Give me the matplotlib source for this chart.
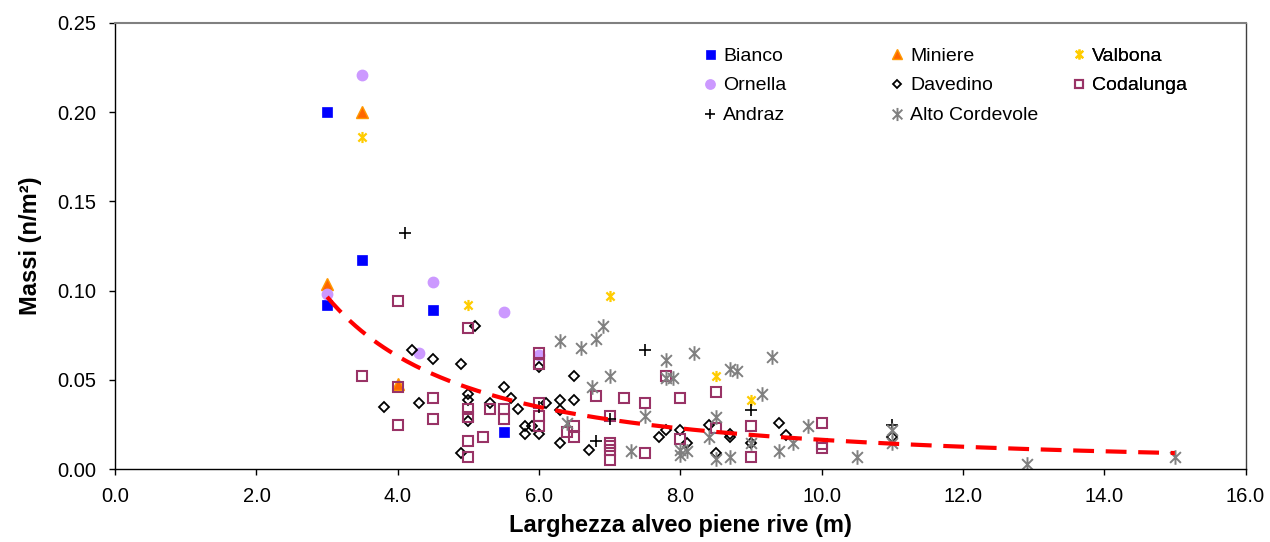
import matplotlib
matplotlib.use("Agg")
import matplotlib.pyplot as plt
import numpy as np
from matplotlib.path import Path
from matplotlib.ticker import FormatStrFormatter

plt.rcParams['font.family'] = ['Liberation Sans', 'DejaVu Sans']

# ---------------- data ----------------
bianco_x = [3.0, 3.5, 3.0, 4.5, 5.5]
bianco_y = [0.200, 0.117, 0.092, 0.089, 0.021]

miniere_x = [3.0, 3.5, 4.0]
miniere_y = [0.104, 0.200, 0.048]

valbona_x = [3.5, 5.0, 7.0, 8.5, 9.0]
valbona_y = [0.186, 0.092, 0.097, 0.052, 0.039]

ornella_x = [3.5, 3.0, 4.5, 5.5, 4.3, 6.0]
ornella_y = [0.221, 0.098, 0.105, 0.088, 0.065, 0.064]

davedino_x = [3.8, 4.2, 4.3, 4.5, 4.9, 4.9, 5.0, 5.0, 5.0, 5.1, 5.3, 5.5, 5.6,
              5.7, 5.8, 5.8, 5.9, 6.0, 6.0, 6.1, 6.3, 6.3, 6.3, 6.5, 6.5, 6.7,
              7.7, 7.8, 8.0, 8.1, 8.4, 8.5, 8.7, 8.7, 9.0, 9.4, 9.5, 11.0]
davedino_y = [0.035, 0.067, 0.037, 0.062, 0.059, 0.009, 0.042, 0.039, 0.027, 0.080,
              0.037, 0.046, 0.040, 0.034, 0.024, 0.020, 0.024, 0.057, 0.020, 0.037,
              0.039, 0.033, 0.015, 0.052, 0.039, 0.011, 0.018, 0.022, 0.022, 0.015,
              0.025, 0.009, 0.020, 0.018, 0.015, 0.026, 0.019, 0.018]

codalunga_x = [3.5, 4.0, 4.0, 4.0, 4.5, 4.5, 5.0, 5.0, 5.0, 5.0, 5.0, 5.2, 5.3,
               5.5, 5.5, 6.0, 6.0, 6.0, 6.0, 6.0, 6.4, 6.5, 6.5, 6.8, 7.0, 7.0,
               7.0, 7.0, 7.0, 7.2, 7.5, 7.5, 7.8, 8.0, 8.0, 8.5, 8.5, 9.0, 9.0,
               10.0, 10.0, 10.0]
codalunga_y = [0.052, 0.094, 0.046, 0.025, 0.040, 0.028, 0.079, 0.034, 0.029, 0.016,
               0.007, 0.018, 0.034, 0.034, 0.028, 0.065, 0.059, 0.037, 0.030, 0.024,
               0.021, 0.024, 0.018, 0.041, 0.030, 0.015, 0.013, 0.011, 0.005, 0.040,
               0.037, 0.009, 0.052, 0.040, 0.017, 0.043, 0.023, 0.024, 0.007,
               0.026, 0.014, 0.012]

andraz_x = [4.1, 6.0, 7.5, 6.8, 7.0, 9.0, 11.0]
andraz_y = [0.132, 0.035, 0.067, 0.016, 0.028, 0.033, 0.025]

alto_x = [6.3, 6.6, 6.8, 6.9, 6.75, 7.0, 6.4, 7.3, 7.5, 7.8, 7.8, 7.9, 8.2, 8.0,
          8.0, 8.1, 8.4, 8.5, 8.5, 8.7, 8.8, 8.7, 9.0, 9.15, 9.3, 9.4, 9.6, 9.8,
          10.5, 11.0, 11.0, 12.9, 15.0]
alto_y = [0.072, 0.068, 0.073, 0.080, 0.046, 0.052, 0.026, 0.010, 0.030, 0.061,
          0.051, 0.051, 0.065, 0.011, 0.008, 0.010, 0.018, 0.029, 0.006, 0.056,
          0.055, 0.007, 0.015, 0.042, 0.063, 0.010, 0.015, 0.024, 0.007, 0.022,
          0.015, 0.003, 0.007]

# power trendline  y = a * x^b  (Excel power fit)
trend_a = 0.4836
trend_b = -1.467

x_ticks = [0, 2, 4, 6, 8, 10, 12, 14, 16]
y_ticks = [0.00, 0.05, 0.10, 0.15, 0.20, 0.25]

# ---------------- figure ----------------
fig = plt.figure(figsize=(12.7, 5.42), dpi=100)
ax = fig.add_axes([115.2 / 1270, 1 - 469.3 / 542, (1245.5 - 115.2) / 1270, (469.3 - 22.7) / 542])

star = Path([(-1, -1), (1, 1), (-1, 1), (1, -1), (0, -1.35), (0, 1.35)],
            [Path.MOVETO, Path.LINETO, Path.MOVETO, Path.LINETO, Path.MOVETO, Path.LINETO])

h = {}
h['Bianco'], = ax.plot(bianco_x, bianco_y, ls='none', marker='s', ms=7.2, mfc='#0000FF', mec='#0000FF', mew=0.5)
h['Miniere'], = ax.plot(miniere_x, miniere_y, ls='none', marker='^', ms=8.5, mfc='#FF6600', mec='#FF9900', mew=1.0)
h['Valbona'], = ax.plot(valbona_x, valbona_y, ls='none', marker=star, ms=8, mfc='none', mec='#FFCC00', mew=1.6)
h['Ornella'], = ax.plot(ornella_x, ornella_y, ls='none', marker='o', ms=7.5, mfc='#CC99FF', mec='#CC99FF')
h['Davedino'], = ax.plot(davedino_x, davedino_y, ls='none', marker='D', ms=5, mfc='none', mec='black', mew=1.3)
h['Codalunga'], = ax.plot(codalunga_x, codalunga_y, ls='none', marker='s', ms=6.5, mfc='none', mec='#993366', mew=1.5)
h['Andraz'], = ax.plot(andraz_x, andraz_y, ls='none', marker='+', ms=8.5, mec='black', mew=1.2)
h['Alto Cordevole'], = ax.plot(alto_x, alto_y, ls='none', marker=star, ms=10.5, mfc='none', mec='#808080', mew=1.4)

all_x = np.concatenate([bianco_x, miniere_x, valbona_x, ornella_x, davedino_x,
                        codalunga_x, andraz_x, alto_x])
xt = np.linspace(all_x.min(), all_x.max(), 300)
ax.plot(xt, trend_a * xt ** trend_b, color='#FF0000', lw=3.0, ls=(0, (5, 2.8)), zorder=5)

ax.set_xlim(0, 16)
ax.set_ylim(0, 0.25)
ax.set_xticks(x_ticks)
ax.set_yticks(y_ticks)
ax.xaxis.set_major_formatter(FormatStrFormatter('%.1f'))
ax.yaxis.set_major_formatter(FormatStrFormatter('%.2f'))
ax.tick_params(axis='both', direction='out', length=4.5, width=1, labelsize=14.5, color='black')
ax.tick_params(axis='x', pad=8)
ax.tick_params(axis='y', pad=9)

for s in ['left', 'bottom']:
    ax.spines[s].set_color('black')
    ax.spines[s].set_linewidth(1.0)
ax.spines['top'].set_color('#808080')
ax.spines['top'].set_linewidth(1.5)
ax.spines['right'].set_color('#404040')
ax.spines['right'].set_linewidth(1.0)

ax.set_xlabel('Larghezza alveo piene rive (m)', fontsize=17, fontweight='bold', labelpad=6)
ax.set_ylabel('Massi (n/m²)', fontsize=17, fontweight='bold', labelpad=11)

cols = [(['Bianco', 'Ornella', 'Andraz'], 702),
        (['Miniere', 'Davedino', 'Alto Cordevole'], 889),
        (['Valbona', 'Codalunga'], 1071)]
for names, px in cols:
    leg = ax.legend([h[n] for n in names], names, loc='upper left',
                    bbox_to_anchor=(px / 1270, 1 - 47 / 542), bbox_transform=fig.transFigure,
                    frameon=False, fontsize=14, handlelength=0.8, handletextpad=0.3,
                    labelspacing=0.63, borderpad=0, borderaxespad=0, numpoints=1,
                    markerscale=0.9)
    ax.add_artist(leg)

fig.savefig('out.png', dpi=100)
